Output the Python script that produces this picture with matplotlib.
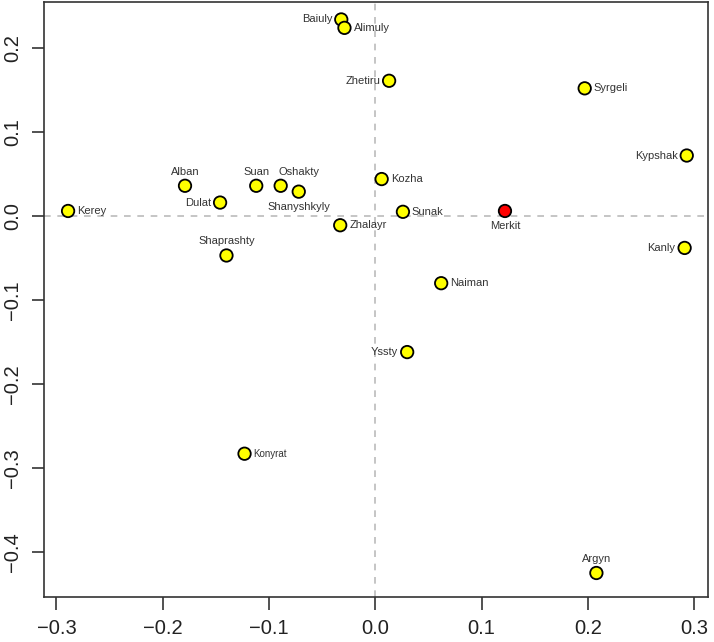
import matplotlib
matplotlib.use("Agg")
import matplotlib.pyplot as plt

plt.rcParams['font.family'] = ['Liberation Sans', 'DejaVu Sans']

names = ["Kerey", "Alban", "Dulat", "Suan", "Oshakty", "Shanyshkyly", "Shaprashty",
         "Baiuly", "Alimuly", "Zhalayr", "Zhetiru", "Syrgeli", "Kypshak", "Kozha",
         "Sunak", "Merkit", "Kanly", "Naiman", "Yssty", "Argyn", "Konyrat"]
xs = [-0.289, -0.179, -0.146, -0.112, -0.089, -0.072, -0.140,
      -0.032, -0.029, -0.033, 0.013, 0.197, 0.293, 0.006,
      0.026, 0.122, 0.291, 0.062, 0.030, 0.208, -0.123]
ys = [0.006, 0.036, 0.016, 0.036, 0.036, 0.029, -0.047,
      0.234, 0.224, -0.011, 0.161, 0.152, 0.072, 0.044,
      0.005, 0.006, -0.038, -0.080, -0.162, -0.425, -0.283]
label_pos = ["right", "above", "left", "above", "above", "below", "above",
             "left", "right", "right", "left", "right", "left", "right",
             "right", "below", "left", "right", "left", "above", "right"]
colors = ["yellow"] * 15 + ["red"] + ["yellow"] * 5

x_ticks = [-0.3, -0.2, -0.1, 0.0, 0.1, 0.2, 0.3]
y_ticks = [-0.4, -0.3, -0.2, -0.1, 0.0, 0.1, 0.2]

fig = plt.figure(figsize=(7.14, 6.42), dpi=100)
ax = fig.add_axes([0.062, 0.0706, 0.9296, 0.9263])
ax.set_xlim(-0.3114, 0.313)
ax.set_ylim(-0.4532, 0.2548)

ax.axhline(0, color="#bbbbbb", linestyle=(0, (4, 4)), linewidth=1.2, zorder=1)
ax.axvline(0, color="#bbbbbb", linestyle=(0, (4, 4)), linewidth=1.2, zorder=1)

ax.scatter(xs, ys, s=80, c=colors, edgecolors="black", linewidths=1.3, zorder=3)

off = 6.5
for n, x, y, p in zip(names, xs, ys, label_pos):
    fs = 7 if n == "Konyrat" else 8
    dx = 13 if n == "Oshakty" else 0
    if p == "right":
        ax.annotate(n, (x, y), xytext=(off, 0), textcoords="offset points",
                    ha="left", va="center", fontsize=fs, color="#333333")
    elif p == "left":
        ax.annotate(n, (x, y), xytext=(-off, 0), textcoords="offset points",
                    ha="right", va="center", fontsize=fs, color="#333333")
    elif p == "above":
        ax.annotate(n, (x, y), xytext=(dx, off), textcoords="offset points",
                    ha="center", va="bottom", fontsize=fs, color="#333333")
    else:
        ax.annotate(n, (x, y), xytext=(0, -off - 1), textcoords="offset points",
                    ha="center", va="top", fontsize=fs, color="#333333")

def fmt(v):
    s = f"{v:.1f}"
    return s.replace("-", "\u2212")

ax.set_xticks(x_ticks)
ax.set_xticklabels([fmt(v) for v in x_ticks])
ax.set_yticks(y_ticks)
ax.set_yticklabels([fmt(v) for v in y_ticks], rotation=90, va="center")
ax.tick_params(axis="both", length=9, width=1.2, labelsize=14.5, pad=7, color="#333333",
               labelcolor="#222222")
for s in ax.spines.values():
    s.set_linewidth(1.2)
    s.set_color("#333333")

fig.savefig("out.png", dpi=100)
